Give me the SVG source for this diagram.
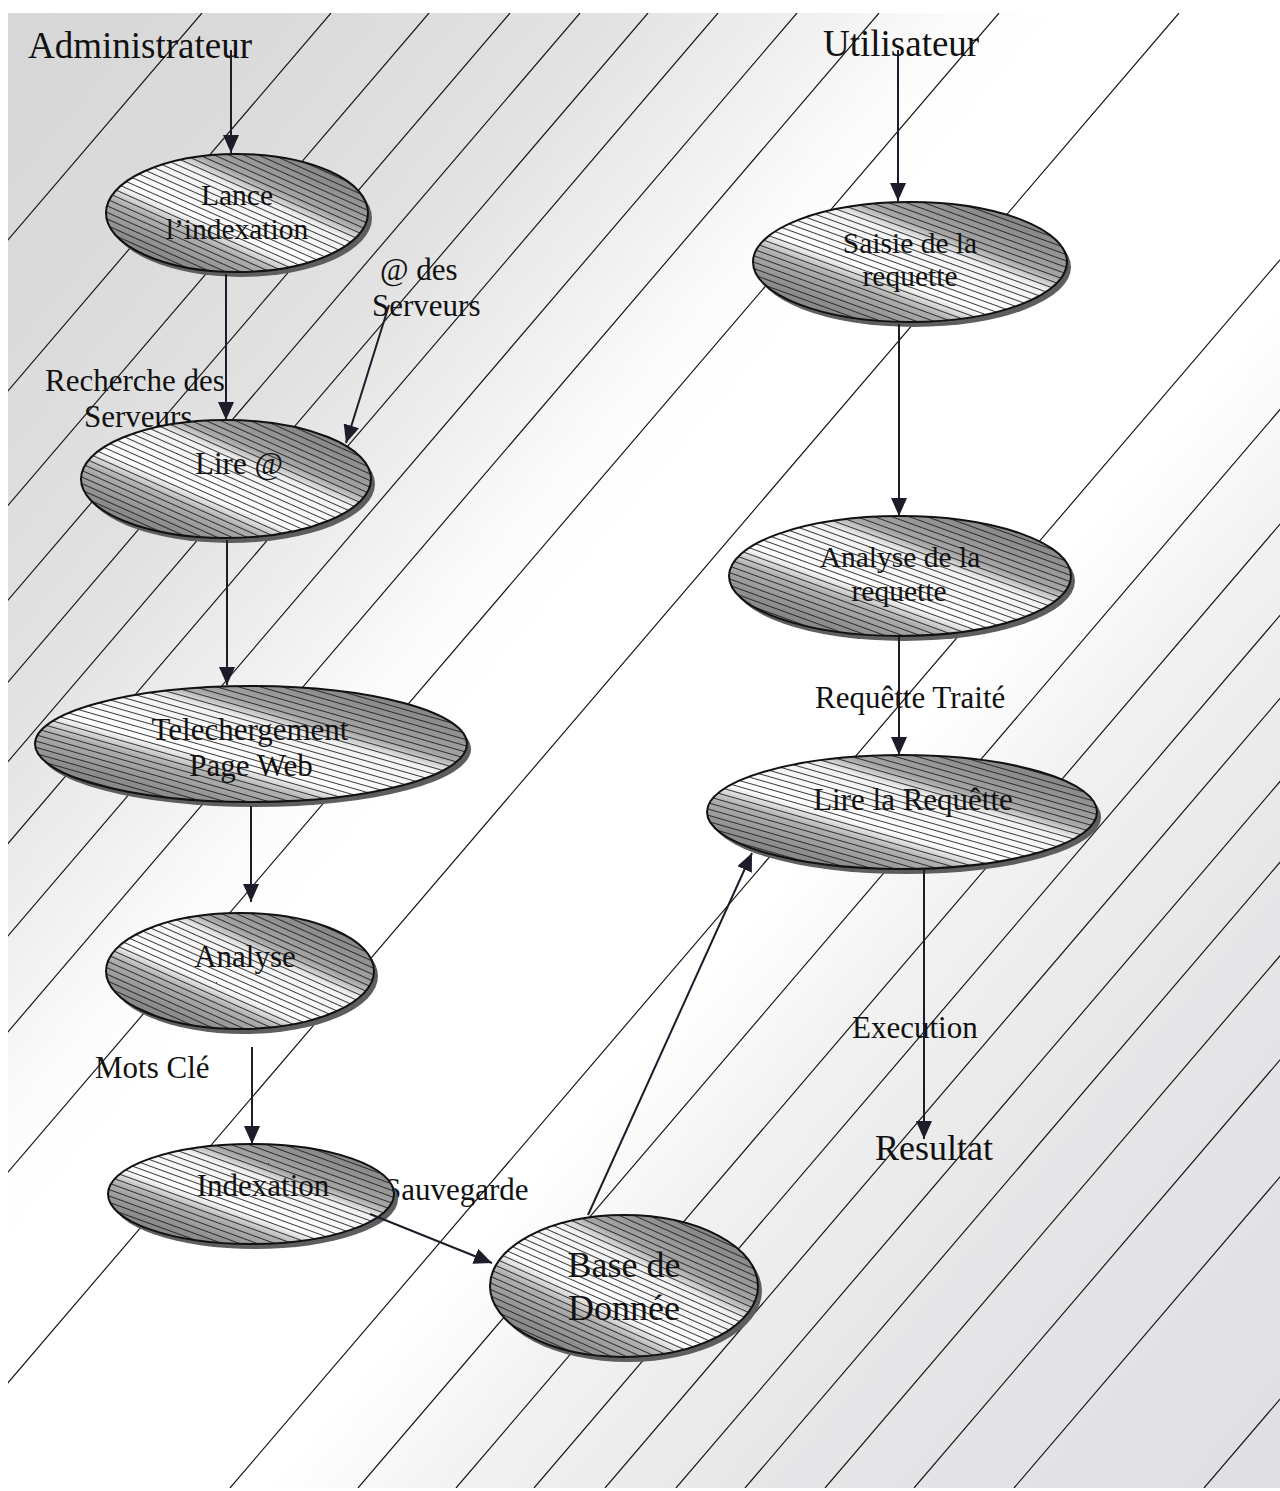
<svg xmlns="http://www.w3.org/2000/svg" width="1280" height="1491" viewBox="0 0 1280 1491">
  <style>
    .lbl { font-family: "Liberation Serif", "Times New Roman", serif; font-size: 31px; fill: #111; }
    .sm { font-size: 29.5px; }
    .big { font-size: 37px; }
    .mid { text-anchor: middle; }
    .shadow { fill: #5e5e5e; }
    .shade { fill: url(#nodeShade); }
    .rim { stroke: #111; stroke-width: 2; }
    .bgline { stroke: #1a1a1a; stroke-width: 1.2; fill: none; }
    .conn { stroke: #1c1c2a; stroke-width: 2; fill: none; marker-end: url(#arrow); }
  </style>
  <defs>
    <!-- soft diagonal shading of the backdrop -->
    <linearGradient id="bgShade" gradientUnits="userSpaceOnUse" x1="0" y1="13" x2="1469" y2="1268.6">
      <stop offset="0" stop-color="#d7d7d7"/>
      <stop offset="0.12" stop-color="#dbdbdb"/>
      <stop offset="0.24" stop-color="#e2e2e2"/>
      <stop offset="0.32" stop-color="#f0f0f0"/>
      <stop offset="0.38" stop-color="#fcfcfc"/>
      <stop offset="0.42" stop-color="#ffffff"/>
      <stop offset="0.60" stop-color="#ffffff"/>
      <stop offset="0.68" stop-color="#f1f1f1"/>
      <stop offset="0.80" stop-color="#e6e6e8"/>
      <stop offset="1" stop-color="#dedfe4"/>
    </linearGradient>
    <clipPath id="frameClip">
      <rect x="8" y="13" width="1272" height="1475"/>
    </clipPath>
    <!-- node body: grey edges, white band along the diagonal -->
    <linearGradient id="nodeShade" x1="1" y1="0" x2="0" y2="1">
      <stop offset="0" stop-color="#707070"/>
      <stop offset="0.2" stop-color="#8e8e8e"/>
      <stop offset="0.33" stop-color="#a6a6a6"/>
      <stop offset="0.40" stop-color="#f2f2f2"/>
      <stop offset="0.60" stop-color="#ffffff"/>
      <stop offset="0.68" stop-color="#b0b0b0"/>
      <stop offset="0.80" stop-color="#8e8e8e"/>
      <stop offset="1" stop-color="#707070"/>
    </linearGradient>
    <!-- hatching at a few slopes -->
    <pattern id="hatch24" patternUnits="userSpaceOnUse" width="12" height="6" patternTransform="rotate(24)">
      <line x1="0" y1="0.5" x2="12" y2="0.5" stroke="#1a1a1a" stroke-width="0.85"/>
    </pattern>
    <pattern id="hatch20" patternUnits="userSpaceOnUse" width="12" height="6" patternTransform="rotate(20)">
      <line x1="0" y1="0.5" x2="12" y2="0.5" stroke="#1a1a1a" stroke-width="0.85"/>
    </pattern>
    <pattern id="hatch16" patternUnits="userSpaceOnUse" width="12" height="6" patternTransform="rotate(16)">
      <line x1="0" y1="0.5" x2="12" y2="0.5" stroke="#1a1a1a" stroke-width="0.85"/>
    </pattern>
    <marker id="arrow" markerUnits="userSpaceOnUse" markerWidth="18" markerHeight="16" refX="18" refY="8" orient="auto">
      <path d="M0,0 L18,8 L0,16 z" fill="#1c1c2a"/>
    </marker>
  </defs>

  <!-- backdrop -->
  <rect width="1280" height="1491" fill="#ffffff"/>
  <g id="backdrop" clip-path="url(#frameClip)">
    <rect x="8" y="13" width="1272" height="1475" fill="url(#bgShade)"/>
    <path class="bgline" d="
      M202,13 L-1059,1488 M331,13 L-930,1488 M429,13 L-832,1488 M510,13 L-751,1488
      M580,13 L-681,1488 M648,13 L-613,1488 M718,13 L-543,1488 M797,13 L-464,1488
      M879,13 L-382,1488 M999,13 L-262,1488 M1179,13 L-82,1488
      M1491,13 L230,1488 M1619,13 L358,1488 M1717,13 L456,1488 M1795,13 L534,1488
      M1866,13 L605,1488 M1937,13 L676,1488 M2006,13 L745,1488 M2086,13 L825,1488
      M2175,13 L914,1488 M2275,13 L1014,1488 M2465,13 L1204,1488"/>
  </g>

  <!-- actors -->
  <text id="actor-admin" class="lbl big" x="28" y="58">Administrateur</text>
  <text id="actor-user" class="lbl big" x="823" y="56">Utilisateur</text>

  <!-- flow labels -->
  <g id="flow-labels">
    <text class="lbl" x="380" y="280">@ des</text>
    <text class="lbl" x="372" y="316">Serveurs</text>
    <text class="lbl" x="45" y="391">Recherche des</text>
    <text class="lbl" x="84" y="427">Serveurs</text>
    <text class="lbl" x="95" y="1078">Mots Clé</text>
    <text class="lbl" x="384" y="1200">Sauvegarde</text>
    <text class="lbl" x="815" y="708">Requêtte Traité</text>
    <text class="lbl" x="852" y="1038">Execution</text>
    <text class="lbl" x="875" y="1160" style="font-size:36px">Resultat</text>
  </g>

  <!-- nodes -->
  <g id="node-lance">
    <ellipse class="shadow" cx="241" cy="218" rx="131" ry="59"/>
    <ellipse class="shade" cx="237" cy="213" rx="131" ry="59"/>
    <ellipse class="rim" cx="237" cy="213" rx="131" ry="59" fill="url(#hatch24)"/>
    <text class="lbl sm mid" x="237" y="205">Lance</text>
    <text class="lbl sm mid" x="237" y="239">l’indexation</text>
  </g>
  <g id="node-lire-adr">
    <ellipse class="shadow" cx="230" cy="484" rx="145" ry="59"/>
    <ellipse class="shade" cx="226" cy="479" rx="145" ry="59"/>
    <ellipse class="rim" cx="226" cy="479" rx="145" ry="59" fill="url(#hatch24)"/>
    <text class="lbl mid" x="239" y="474">Lire @</text>
  </g>
  <g id="node-telechargement">
    <ellipse class="shadow" cx="255" cy="749" rx="216" ry="58"/>
    <ellipse class="shade" cx="251" cy="744" rx="216" ry="58"/>
    <ellipse class="rim" cx="251" cy="744" rx="216" ry="58" fill="url(#hatch16)"/>
    <text class="lbl mid" x="250" y="740">Telechergement</text>
    <text class="lbl mid" x="251" y="776">Page Web</text>
  </g>
  <g id="node-analyse">
    <ellipse class="shadow" cx="244" cy="976" rx="134" ry="58"/>
    <ellipse class="shade" cx="240" cy="971" rx="134" ry="58"/>
    <ellipse class="rim" cx="240" cy="971" rx="134" ry="58" fill="url(#hatch24)"/>
    <text class="lbl mid" x="245" y="967">Analyse</text>
  </g>
  <g id="node-indexation">
    <ellipse class="shadow" cx="255" cy="1199" rx="143" ry="50"/>
    <ellipse class="shade" cx="251" cy="1194" rx="143" ry="50"/>
    <ellipse class="rim" cx="251" cy="1194" rx="143" ry="50" fill="url(#hatch20)"/>
    <text class="lbl mid" x="263" y="1196">Indexation</text>
  </g>
  <g id="node-base">
    <ellipse class="shadow" cx="628" cy="1291" rx="134" ry="71"/>
    <ellipse class="shade" cx="624" cy="1286" rx="134" ry="71"/>
    <ellipse class="rim" cx="624" cy="1286" rx="134" ry="71" fill="url(#hatch24)"/>
    <text class="lbl mid" x="624" y="1277" style="font-size:36px">Base de</text>
    <text class="lbl mid" x="624" y="1320" style="font-size:36px">Donnée</text>
  </g>
  <g id="node-saisie">
    <ellipse class="shadow" cx="914" cy="267" rx="157" ry="60"/>
    <ellipse class="shade" cx="910" cy="262" rx="157" ry="60"/>
    <ellipse class="rim" cx="910" cy="262" rx="157" ry="60" fill="url(#hatch20)"/>
    <text class="lbl sm mid" x="910" y="253">Saisie de la</text>
    <text class="lbl sm mid" x="910" y="286">requette</text>
  </g>
  <g id="node-analyse-requete">
    <ellipse class="shadow" cx="904" cy="581" rx="171" ry="60"/>
    <ellipse class="shade" cx="900" cy="576" rx="171" ry="60"/>
    <ellipse class="rim" cx="900" cy="576" rx="171" ry="60" fill="url(#hatch20)"/>
    <text class="lbl sm mid" x="900" y="567">Analyse de la</text>
    <text class="lbl sm mid" x="899" y="601">requette</text>
  </g>
  <g id="node-lire-requete">
    <ellipse class="shadow" cx="906" cy="817" rx="195" ry="57"/>
    <ellipse class="shade" cx="902" cy="812" rx="195" ry="57"/>
    <ellipse class="rim" cx="902" cy="812" rx="195" ry="57" fill="url(#hatch16)"/>
    <text class="lbl mid" x="913" y="810">Lire la Requêtte</text>
  </g>

  <!-- connectors -->
  <g id="connectors">
    <path class="conn" d="M231,50 V153"/>
    <path class="conn" d="M226,274 V420"/>
    <path class="conn" d="M389,305 L346,443"/>
    <path class="conn" d="M227,540 V685"/>
    <path class="conn" d="M251,806 V902"/>
    <path class="conn" d="M252,1047 V1144"/>
    <path class="conn" d="M370,1214 L492,1263"/>
    <path class="conn" d="M588,1215 L752,853"/>
    <path class="conn" d="M898,50 V201"/>
    <path class="conn" d="M899,324 V516"/>
    <path class="conn" d="M899,637 V755"/>
    <path class="conn" d="M924,870 V1139"/>
  </g>
</svg>
